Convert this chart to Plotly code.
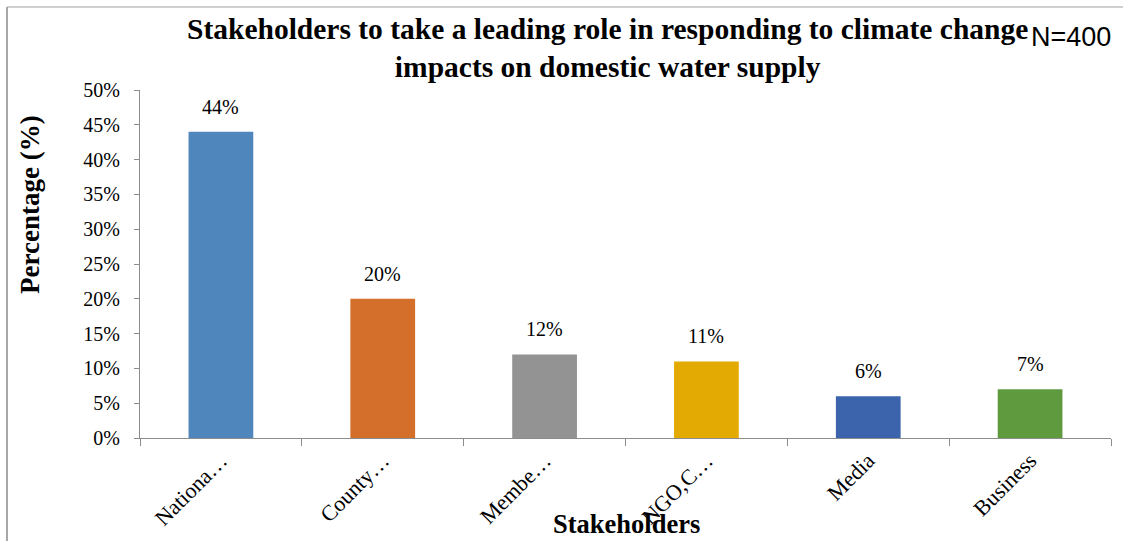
import plotly.graph_objects as go

# Survey responses (N=400)
categories = ["Nationa…", "County…", "Membe…", "NGO,C…", "Media", "Business"]
shares = [0.44, 0.20, 0.12, 0.11, 0.06, 0.07]
bar_colors = ["#4F87BD", "#D46E2B", "#939393", "#E3AA03", "#3B64AD", "#5F9B3E"]
y_ticks = [0, 0.05, 0.10, 0.15, 0.20, 0.25, 0.30, 0.35, 0.40, 0.45, 0.50]
y_tick_text = ["0%", "5%", "10%", "15%", "20%", "25%", "30%", "35%", "40%", "45%", "50%"]

W, H = 1123, 541
L, R, T, B = 140, 12, 90, 103
PW, PH = W - L - R, H - T - B


def px(x):
    return (x - L) / PW


def py(y):
    return (H - B - y) / PH


SERIF = "Liberation Serif, Times New Roman, serif"
AXIS_GRAY = "#8C8C8C"

fig = go.Figure(
    go.Bar(
        x=categories,
        y=shares,
        marker=dict(color=bar_colors, line=dict(width=0)),
        width=0.4,
        hoverinfo="skip",
    )
)

# value labels above bars
for c, v in zip(categories, shares):
    fig.add_annotation(
        x=c, y=v, text=f"{round(v * 100)}%", showarrow=False,
        yanchor="bottom", yshift=12,
        font=dict(family=SERIF, size=20, color="#000"),
    )

# title
fig.add_annotation(
    x=px(607), y=py(48), xref="paper", yref="paper",
    text="<b>Stakeholders to take a leading role in responding to climate change<br>impacts on domestic water supply</b>",
    showarrow=False, xanchor="center", yanchor="middle", align="center",
    font=dict(family=SERIF, size=29.5, color="#000"),
)
fig.add_annotation(
    x=px(1113), y=py(37), xref="paper", yref="paper",
    text="N=400", showarrow=False, xanchor="right", yanchor="middle",
    font=dict(family="Liberation Sans, Arial, sans-serif", size=27, color="#000"),
)
# axis titles
fig.add_annotation(
    x=px(30), y=py(205), xref="paper", yref="paper",
    text="<b>Percentage (%)</b>", showarrow=False, textangle=-90,
    xanchor="center", yanchor="middle",
    font=dict(family=SERIF, size=27, color="#000"),
)
fig.add_annotation(
    x=px(626), y=py(524), xref="paper", yref="paper",
    text="<b>Stakeholders</b>", showarrow=False,
    xanchor="center", yanchor="middle",
    font=dict(family=SERIF, size=26.5, color="#000"),
)

# outer frame lines (top and left)
fig.add_shape(type="line", xref="paper", yref="paper",
              x0=px(7), x1=px(1123), y0=py(7), y1=py(7),
              line=dict(color="#A0A0A0", width=1))
fig.add_shape(type="line", xref="paper", yref="paper",
              x0=px(7), x1=px(7), y0=py(7), y1=py(541),
              line=dict(color="#A8A8A8", width=2))

fig.update_layout(
    width=W, height=H,
    margin=dict(l=L, r=R, t=T, b=B),
    paper_bgcolor="white", plot_bgcolor="white",
    showlegend=False,
    bargap=0.6,
)
fig.update_xaxes(
    automargin=False,
    showline=True, linecolor=AXIS_GRAY, linewidth=1,
    ticks="outside", tickson="boundaries", ticklen=7, tickcolor=AXIS_GRAY,
    tickangle=-45, showgrid=False,
    tickfont=dict(family=SERIF, size=22, color="#000"),
)
fig.update_yaxes(
    automargin=False,
    range=[0, 0.5], tickvals=y_ticks, ticktext=y_tick_text,
    showline=True, linecolor=AXIS_GRAY, linewidth=1,
    ticks="outside", ticklen=5, tickcolor=AXIS_GRAY, ticklabelstandoff=10,
    showgrid=False, zeroline=False,
    tickfont=dict(family=SERIF, size=20, color="#000"),
)

fig.write_html("out.html", config={"displayModeBar": False})
